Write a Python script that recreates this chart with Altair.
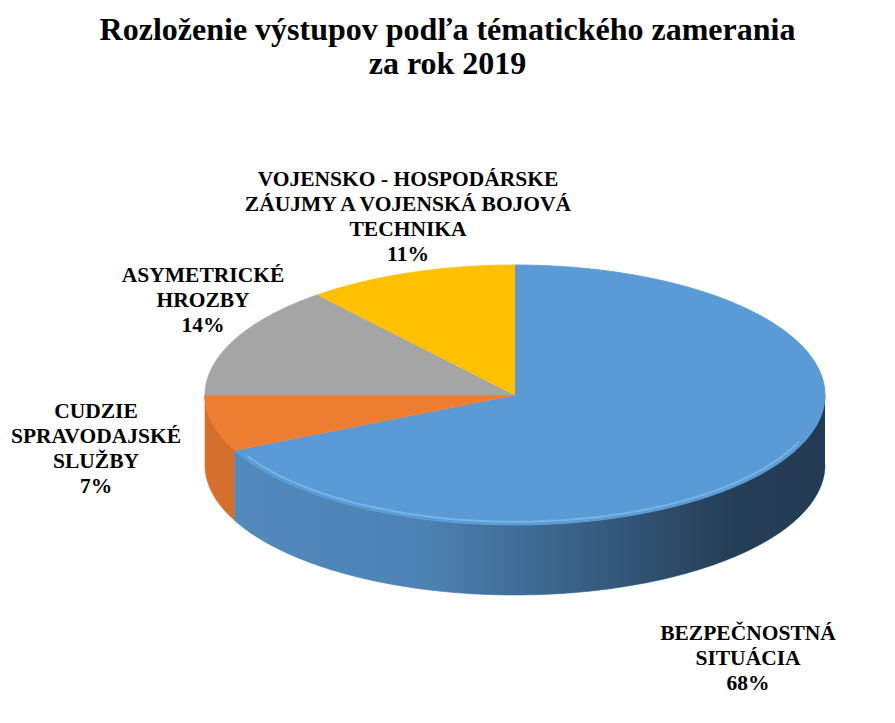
import altair as alt
import pandas as pd

# ---------------- data ----------------
categories = [
    "BEZPEČNOSTNÁ SITUÁCIA",
    "CUDZIE SPRAVODAJSKÉ SLUŽBY",
    "ASYMETRICKÉ HROZBY",
    "VOJENSKO - HOSPODÁRSKE ZÁUJMY A VOJENSKÁ BOJOVÁ TECHNIKA",
]
values = [68, 7, 14, 11]
label_lines = [
    "BEZPEČNOSTNÁ\nSITUÁCIA",
    "CUDZIE\nSPRAVODAJSKÉ\nSLUŽBY",
    "ASYMETRICKÉ\nHROZBY",
    "VOJENSKO - HOSPODÁRSKE\nZÁUJMY A VOJENSKÁ BOJOVÁ\nTECHNIKA",
]
title_lines = ["Rozloženie výstupov podľa  tématického zamerania", "za rok 2019"]

# ---------------- style / layout ----------------
colors = ["#5B9BD5", "#ED7D31", "#A5A5A5", "#FFC000"]
TOP_PAD = 95
label_x = [748, 96, 203, 408]          # page pixels (label block centres)
label_y = [634, 412, 276, 180]          # page pixels (first line centres)
CX, A = 515, 310                        # ellipse centre x, half width (page px)
CY, B = 395, 130                        # ellipse centre y, half height (page px)
DEPTH = 70 / 130                        # side depth in ellipse units
N = 240                                 # points per top arc
K = 200                                 # points per side arc

slices = pd.DataFrame({"cat": categories, "value": values, "idx": list(range(len(values)))})
labels = pd.DataFrame({
    "text": [f"{l}\n{v}%" for l, v in zip(label_lines, values)],
    "lx": label_x,
    "ly": [y - TOP_PAD for y in label_y],
})

xs = alt.Scale(domain=[-1, 1], range=[CX - A, CX + A], zero=False, nice=False)
ys = alt.Scale(domain=[-1, 1], range=[CY - B - TOP_PAD, CY + B - TOP_PAD], zero=False, nice=False)
cs = alt.Scale(domain=categories, range=colors)

base = (
    alt.Chart(slices)
    .transform_joinaggregate(tot="sum(value)")
    .transform_window(cum="sum(value)", sort=[alt.SortField("idx")], frame=[None, 0])
    .transform_calculate(
        a0="2*PI*(datum.cum - datum.value)/datum.tot",
        a1="2*PI*datum.cum/datum.tot",
    )
)

# side walls of each slice (front half only)
side = (
    base.transform_calculate(s="max(datum.a0, PI/2)", e="min(datum.a1, 3*PI/2)")
    .transform_filter("datum.e > datum.s")
    .transform_calculate(k=f"sequence(0, {2 * K + 2})")
    .transform_flatten(["k"])
    .transform_calculate(
        j=f"datum.k <= {K} ? datum.k : {2 * K + 1} - datum.k",
    )
    .transform_calculate(
        th=f"datum.s + datum.j/{K}*(datum.e - datum.s)",
    )
    .transform_calculate(
        px="sin(datum.th)",
        py=f"-cos(datum.th) + (datum.k > {K} ? {DEPTH} : 0)",
    )
    .mark_line(filled=True, strokeWidth=0.8)
    .encode(
        x=alt.X("px:Q", scale=xs, axis=None),
        y=alt.Y("py:Q", scale=ys, axis=None),
        order=alt.Order("k:Q"),
        color=alt.Color("cat:N", scale=cs, legend=None),
        stroke=alt.Stroke("cat:N", scale=cs, legend=None),
        detail="cat:N",
    )
)

# shading of the side wall
shade = (
    alt.Chart(alt.sequence(0, 2 * K + 2, as_="k"))
    .transform_calculate(j=f"datum.k <= {K} ? datum.k : {2 * K + 1} - datum.k")
    .transform_calculate(th=f"PI/2 + datum.j/{K}*PI")
    .transform_calculate(
        px="sin(datum.th)",
        py=f"-cos(datum.th) + (datum.k > {K} ? {DEPTH} : 0)",
    )
    .mark_line(
        filled=True,
        strokeWidth=0,
        fill=alt.Gradient(
            gradient="linear",
            x1=0, x2=1, y1=0, y2=0,
            stops=[
                alt.GradientStop(color="rgba(0,0,0,0.10)", offset=0),
                alt.GradientStop(color="rgba(0,0,0,0.16)", offset=0.35),
                alt.GradientStop(color="rgba(0,0,0,0.38)", offset=0.6),
                alt.GradientStop(color="rgba(0,0,0,0.60)", offset=0.85),
                alt.GradientStop(color="rgba(0,0,0,0.62)", offset=1),
            ],
        ),
    )
    .encode(
        x=alt.X("px:Q", scale=xs, axis=None),
        y=alt.Y("py:Q", scale=ys, axis=None),
        order=alt.Order("k:Q"),
    )
)

# top faces
top = (
    base.transform_calculate(k=f"sequence(0, {N + 2})")
    .transform_flatten(["k"])
    .transform_calculate(th=f"datum.a0 + (datum.k - 1)/{N}*(datum.a1 - datum.a0)")
    .transform_calculate(
        px="datum.k == 0 ? 0 : sin(datum.th)",
        py="datum.k == 0 ? 0 : -cos(datum.th)",
    )
    .mark_line(filled=True, strokeWidth=0.8)
    .encode(
        x=alt.X("px:Q", scale=xs, axis=None),
        y=alt.Y("py:Q", scale=ys, axis=None),
        order=alt.Order("k:Q"),
        color=alt.Color("cat:N", scale=cs, legend=None),
        stroke=alt.Stroke("cat:N", scale=cs, legend=None),
        detail="cat:N",
    )
)

# light bevel along the front rim
rim = (
    alt.Chart(alt.sequence(0, 121, as_="k"))
    .transform_calculate(th="PI*0.62 + datum.k/120*PI*0.72")
    .transform_calculate(px="0.985*sin(datum.th)", py="-0.975*cos(datum.th)")
    .mark_line(stroke="#8cc6f7", strokeWidth=2, opacity=0.55)
    .encode(
        x=alt.X("px:Q", scale=xs, axis=None),
        y=alt.Y("py:Q", scale=ys, axis=None),
        order=alt.Order("k:Q"),
    )
)

text = (
    alt.Chart(labels)
    .mark_text(
        font="Liberation Serif",
        fontWeight="bold",
        fontSize=21.5,
        lineHeight=25,
        lineBreak="\n",
        align="center",
        baseline="middle",
        color="black",
    )
    .encode(
        x=alt.X("lx:Q", scale=None),
        y=alt.Y("ly:Q", scale=None),
        text="text:N",
    )
)

chart = (
    alt.layer(side, shade, top, rim, text)
    .properties(
        width=895,
        height=723 - TOP_PAD,
        padding={"top": TOP_PAD, "left": 0, "right": 0, "bottom": 0},
        autosize=alt.AutoSizeParams(type="none"),
        background="white",
        title=alt.TitleParams(
            title_lines,
            font="Liberation Serif",
            fontSize=32,
            fontWeight="bold",
            lineHeight=34,
            anchor="middle",
            color="black",
            offset=14,
        ),
    )
    .configure_view(stroke=None)
)

chart.save("out.html", embed_options={"renderer": "svg", "actions": False})
